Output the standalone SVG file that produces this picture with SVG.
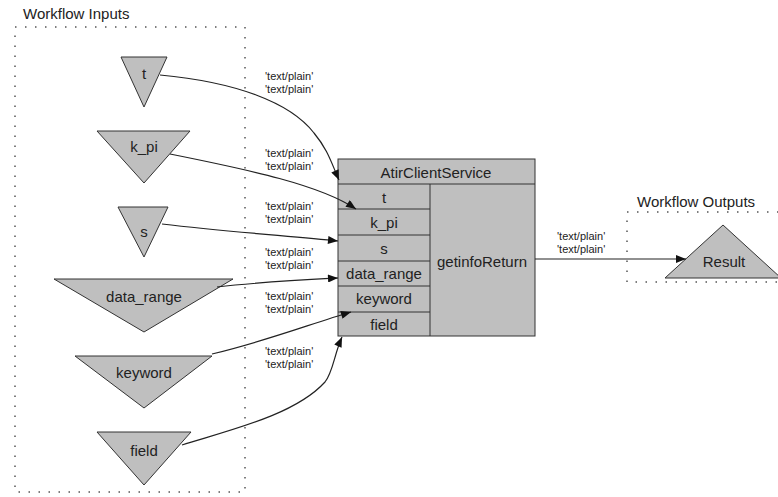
<svg xmlns="http://www.w3.org/2000/svg" width="778" height="497" viewBox="0 0 778 497">
<defs>
<style>
text{font-family:"Liberation Sans",Arial,sans-serif;fill:#222}
.lbl{font-size:15px;text-anchor:middle}
.cl{font-size:15px}
.el text{font-size:11px}
.n{fill:#bfbfbf;stroke:#333;stroke-width:1}
.cluster{fill:none;stroke:#555;stroke-width:1.5;stroke-dasharray:1.5 8.5}
.e{fill:none;stroke:#222;stroke-width:1.2;marker-end:url(#ah)}
</style>
<marker id="ah" viewBox="0 0 10 8" refX="10" refY="4" markerWidth="12" markerHeight="8" markerUnits="userSpaceOnUse" orient="auto">
<path d="M0,0 L10,4 L0,8 Z" fill="#111"/>
</marker>
</defs>
<rect width="778" height="497" fill="#fff"/>
<g id="cluster_inputs">
<rect class="cluster" x="15" y="27" width="230" height="465"/>
<text class="cl" x="23" y="19">Workflow Inputs</text>
</g>
<g id="cluster_outputs">
<rect class="cluster" x="627" y="212" width="170" height="70"/>
<text class="cl" x="637" y="207">Workflow Outputs</text>
</g>
<g id="node_t">
<polygon class="n" points="121,57 167,57 144,107"/>
<text class="lbl" x="144" y="79">t</text>
</g>
<g id="node_k_pi">
<polygon class="n" points="97,131 190,131 144,183"/>
<text class="lbl" x="144" y="152">k_pi</text>
</g>
<g id="node_s">
<polygon class="n" points="118,207 168,207 144,257"/>
<text class="lbl" x="144" y="237">s</text>
</g>
<g id="node_data_range">
<polygon class="n" points="54,279 233,279 144,332"/>
<text class="lbl" x="144" y="302">data_range</text>
</g>
<g id="node_keyword">
<polygon class="n" points="75,356 212,356 144,408"/>
<text class="lbl" x="144" y="378">keyword</text>
</g>
<g id="node_field">
<polygon class="n" points="97,432 191,432 144,485"/>
<text class="lbl" x="144" y="456">field</text>
</g>
<g id="node_AtirClientService">
<rect class="n" x="338" y="159" width="197" height="177"/>
<line x1="338" y1="184" x2="535" y2="184" stroke="#333"/>
<line x1="430" y1="184" x2="430" y2="336" stroke="#333"/>
<line x1="338" y1="209" x2="430" y2="209" stroke="#333"/>
<line x1="338" y1="235" x2="430" y2="235" stroke="#333"/>
<line x1="338" y1="261" x2="430" y2="261" stroke="#333"/>
<line x1="338" y1="286" x2="430" y2="286" stroke="#333"/>
<line x1="338" y1="312" x2="430" y2="312" stroke="#333"/>
<text class="lbl" x="436" y="178">AtirClientService</text>
<text class="lbl" x="384" y="203">t</text>
<text class="lbl" x="384" y="228">k_pi</text>
<text class="lbl" x="384" y="254">s</text>
<text class="lbl" x="384" y="279">data_range</text>
<text class="lbl" x="384" y="304">keyword</text>
<text class="lbl" x="384" y="330">field</text>
<text class="lbl" x="482" y="267">getinfoReturn</text>
</g>
<g id="node_Result">
<polygon class="n" points="723,225 781,278 665,278"/>
<text class="lbl" x="724" y="267">Result</text>
</g>
<g id="connectors">
<path class="e" d="M160,75 C235,82 290,102 314,133 C328,150 331,162 339,180"/>
<path class="e" d="M170,154 C250,170 320,185 356,209"/>
<path class="e" d="M162,224 C230,232 290,236 338,241"/>
<path class="e" d="M217,287 C260,282 300,280 338,278"/>
<path class="e" d="M212,354 C270,340 310,324 351,312"/>
<path class="e" d="M182,445 C230,430 295,415 325,382 C333,372 334,355 342,337"/>
<path class="e" d="M535,259 L686,259"/>
<g class="el">
<text x="265" y="79.5">'text/plain'</text><text x="265" y="92.5">'text/plain'</text>
<text x="265" y="156.5">'text/plain'</text><text x="265" y="169.5">'text/plain'</text>
<text x="265" y="209.5">'text/plain'</text><text x="265" y="222.5">'text/plain'</text>
<text x="265" y="255.5">'text/plain'</text><text x="265" y="268.5">'text/plain'</text>
<text x="265" y="299.5">'text/plain'</text><text x="265" y="312.5">'text/plain'</text>
<text x="265" y="354.5">'text/plain'</text><text x="265" y="367.5">'text/plain'</text>
<text x="557" y="239.5">'text/plain'</text><text x="557" y="252.5">'text/plain'</text>
</g>
</g>
</svg>
